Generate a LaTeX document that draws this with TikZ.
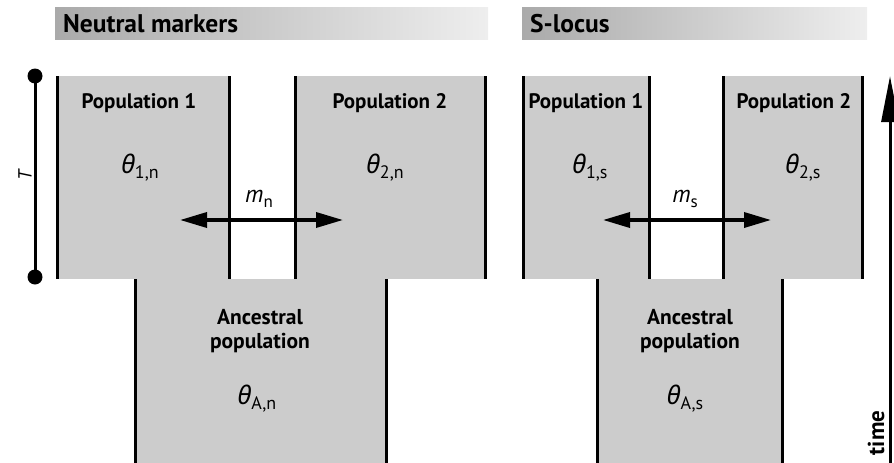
\documentclass[tikz,border=0pt]{standalone}
\usepackage{fontspec}
\setmainfont{PT Sans}
\newfontfamily\gk{Noto Sans}
\usetikzlibrary{arrows.meta}
\definecolor{boxgray}{RGB}{204,204,204}
\definecolor{hdleft}{RGB}{170,170,170}
\definecolor{hdright}{RGB}{238,238,238}
\newcommand{\thsub}[1]{{\gk\itshape θ}\raisebox{-5pt}{\fontsize{18}{18}\selectfont #1}}
\newcommand{\msub}[1]{{\itshape m}\raisebox{-5pt}{\fontsize{17}{17}\selectfont #1}}
\tikzset{
  popbox/.style={fill=boxgray, draw=none, inner sep=0pt, outer sep=0pt, anchor=north west},
  wall/.style={line width=3pt, black},
  hdbar/.style={left color=hdleft, right color=hdright, draw=none, inner sep=0pt, outer sep=0pt, anchor=north west},
  hdtext/.style={font=\fontsize{25.5}{27}\selectfont\bfseries, anchor=west, inner sep=0pt},
  poptext/.style={font=\fontsize{21}{22}\selectfont\bfseries, inner sep=0pt},
  anctext/.style={font=\fontsize{21.5}{24}\selectfont\bfseries, align=center, inner sep=0pt},
  thtext/.style={font=\fontsize{25.5}{26}\selectfont, inner sep=0pt},
  mtext/.style={font=\fontsize{24}{26}\selectfont, inner sep=0pt},
  migr/.style={line width=3.5pt, {Triangle[length=27pt,width=15pt]}-{Triangle[length=27pt,width=15pt]}},
  dot/.style={circle, fill=black, minimum size=15pt, inner sep=0pt},
}
\begin{document}
\begin{tikzpicture}[x=1pt,y=-1pt]
\useasboundingbox (0,0) rectangle (894,463);

% headers
\node[hdbar, minimum width=433pt, minimum height=32pt] (h1) at (55,7) {};
\node[hdtext] (h1t) at (63,24) {Neutral markers};
\node[hdbar, minimum width=345pt, minimum height=32pt] (h2) at (522,7) {};
\node[hdtext] (h2t) at (530,24) {S-locus};

% ---------- left panel ----------
\node[popbox, minimum width=172pt, minimum height=203pt] (a1) at (57,76) {};
\node[popbox, minimum width=190pt, minimum height=203pt] (a2) at (295,76) {};
\node[popbox, minimum width=251pt, minimum height=184pt] (aA) at (135,279) {};
\draw[wall] (a1.north west) -- (a1.south west);
\draw[wall] (a1.north east) -- (a1.south east);
\draw[wall] (a2.north west) -- (a2.south west);
\draw[wall] (a2.north east) -- (a2.south east);
\draw[wall] (aA.north west) -- (aA.south west);
\draw[wall] (aA.north east) -- (aA.south east);

\node[poptext] (a1t) at (139,103) {Population 1};
\node[poptext] (a2t) at (390,103) {Population 2};
\node[thtext] (a1th) at (140,168) {\thsub{1,n}};
\node[thtext] (a2th) at (385,168) {\thsub{2,n}};
\node[mtext] (amt) at (259,199) {\msub{n}};
\coordinate (aml) at (180,220);
\coordinate (amr) at (343,220);
\draw[migr] (aml) -- (amr);
\node[anctext] (aAt) at (260,331) {Ancestral\\population};
\node[thtext] (aAth) at (257,399) {\thsub{A,n}};

% T bar
\node[dot] (ttop) at (35,76) {};
\node[dot] (tbot) at (35,277) {};
\draw[line width=3pt] (ttop.center) -- (tbot.center);
\node[font=\fontsize{19}{19}\selectfont\itshape, rotate=90, inner sep=0pt] (tl) at (25,175) {T};

% ---------- right panel ----------
\node[popbox, minimum width=126pt, minimum height=203pt] (b1) at (523,76) {};
\node[popbox, minimum width=139pt, minimum height=203pt] (b2) at (723,76) {};
\node[popbox, minimum width=185pt, minimum height=184pt] (bA) at (597,279) {};
\draw[wall] (b1.north west) -- (b1.south west);
\draw[wall] (b1.north east) -- (b1.south east);
\draw[wall] (b2.north west) -- (b2.south west);
\draw[wall] (b2.north east) -- (b2.south east);
\draw[wall] (bA.north west) -- (bA.south west);
\draw[wall] (bA.north east) -- (bA.south east);

\node[poptext] (b1t) at (586,103) {Population 1};
\node[poptext] (b2t) at (794,103) {Population 2};
\node[thtext] (b1th) at (590,168) {\thsub{1,s}};
\node[thtext] (b2th) at (803,168) {\thsub{2,s}};
\node[mtext] (bmt) at (685,199) {\msub{s}};
\coordinate (bml) at (603,220);
\coordinate (bmr) at (771,220);
\draw[migr] (bml) -- (bmr);
\node[anctext] (bAt) at (690,331) {Ancestral\\population};
\node[thtext] (bAth) at (685,399) {\thsub{A,s}};

% time arrow
\coordinate (tmb) at (890,463);
\coordinate (tmt) at (890,76);
\draw[line width=3pt, -{Triangle[length=46pt,width=17pt]}] (tmb) -- (tmt);
\node[font=\fontsize{23}{23}\selectfont\bfseries, rotate=90, inner sep=0pt] (tml) at (876,433) {time};
\end{tikzpicture}
\end{document}
